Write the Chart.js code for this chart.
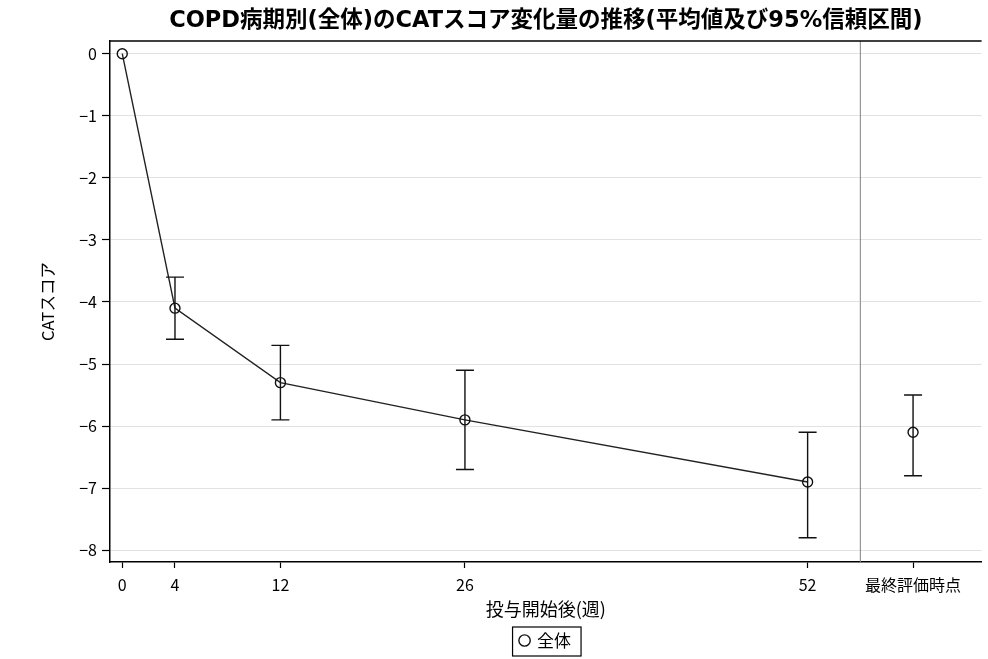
<!DOCTYPE html>
<html>
<head>
<meta charset="utf-8">
<script src="https://cdn.jsdelivr.net/npm/chart.js@4.4.1/dist/chart.umd.min.js"></script>
<style>
  html, body { margin: 0; padding: 0; background: #fff; }
  #wrap { width: 988px; height: 659px; }
</style>
</head>
<body>
<div id="wrap"><canvas id="catChart"></canvas></div>
<script>
const weeks = [0, 4, 12, 26, 52];
const meanValues = [0, -4.1, -5.3, -5.9, -6.9];
const lowerCI = [null, -4.6, -5.9, -6.7, -7.8];
const upperCI = [null, -3.6, -4.7, -5.1, -6.1];

const finalX = 60;
const finalMean = -6.1;
const finalLower = -6.8;
const finalUpper = -5.5;

const refLineX = 56;
const xTicks = [0, 4, 12, 26, 52, 60];
const xTickLabels = ['0', '4', '12', '26', '52', '最終評価時点'];
const yTicks = [0, -1, -2, -3, -4, -5, -6, -7, -8];

const fontFamily = '"Noto Sans CJK JP", "Noto Sans", sans-serif';
const titleFamily = '"DejaVu Sans", "Noto Sans CJK JP", sans-serif';

// error bars, reference line, frame top, legend box
const extras = {
  id: 'extras',
  beforeDatasetsDraw: (chart) => {
    const { ctx, chartArea, scales } = chart;
    const x = scales.x.getPixelForValue(refLineX);
    ctx.save();
    ctx.strokeStyle = '#808080';
    ctx.lineWidth = 1;
    ctx.beginPath();
    ctx.moveTo(x, chartArea.top);
    ctx.lineTo(x, chartArea.bottom);
    ctx.stroke();
    ctx.strokeStyle = '#000';
    ctx.lineWidth = 1.5;
    ctx.beginPath();
    ctx.moveTo(chartArea.left, chartArea.top);
    ctx.lineTo(chartArea.right, chartArea.top);
    ctx.stroke();
    ctx.restore();
  },
  afterDatasetsDraw: (chart) => {
    const { ctx, scales } = chart;
    const bars = weeks.map((w, i) => [w, lowerCI[i], upperCI[i]]);
    bars.push([finalX, finalLower, finalUpper]);
    ctx.save();
    ctx.strokeStyle = '#111';
    ctx.lineWidth = 1.4;
    bars.forEach(([w, lo, hi]) => {
      if (lo === null) return;
      const x = scales.x.getPixelForValue(w);
      const y1 = scales.y.getPixelForValue(lo);
      const y2 = scales.y.getPixelForValue(hi);
      ctx.beginPath();
      ctx.moveTo(x, y1); ctx.lineTo(x, y2);
      ctx.moveTo(x - 9, y1); ctx.lineTo(x + 9, y1);
      ctx.moveTo(x - 9, y2); ctx.lineTo(x + 9, y2);
      ctx.stroke();
    });
    ctx.restore();
  },
  afterDraw: (chart) => {
    const lg = chart.legend;
    if (!lg || !lg.legendHitBoxes || !lg.legendHitBoxes.length) return;
    const b = lg.legendHitBoxes[0];
    const { ctx } = chart;
    ctx.save();
    ctx.strokeStyle = '#000';
    ctx.lineWidth = 1.2;
    ctx.strokeRect(b.left - 8, b.top - 5, b.width + 18, b.height + 12);
    ctx.restore();
  }
};

new Chart(document.getElementById('catChart'), {
  type: 'line',
  data: {
    datasets: [
      {
        label: '全体',
        data: weeks.map((w, i) => ({ x: w, y: meanValues[i] })),
        borderColor: '#222',
        borderWidth: 1.4,
        pointStyle: 'circle',
        pointRadius: 5,
        pointBorderWidth: 1.4,
        pointBorderColor: '#111',
        pointBackgroundColor: 'rgba(255,255,255,0)',
        fill: false,
        tension: 0
      },
      {
        label: 'final',
        data: [{ x: finalX, y: finalMean }],
        showLine: false,
        pointStyle: 'circle',
        pointRadius: 5,
        pointBorderWidth: 1.4,
        pointBorderColor: '#111',
        pointBackgroundColor: 'rgba(255,255,255,0)'
      }
    ]
  },
  options: {
    responsive: true,
    maintainAspectRatio: false,
    animation: false,
    layout: { padding: { left: 34, right: 5, top: 0, bottom: 0 } },
    plugins: {
      title: {
        display: true,
        fullSize: false,
        text: 'COPD病期別(全体)のCATスコア変化量の推移(平均値及び95%信頼区間)',
        color: '#000',
        font: { family: titleFamily, size: 22.5, weight: 'bold' },
        padding: { top: 8, bottom: 6 }
      },
      legend: {
        display: true,
        position: 'bottom',
        fullSize: false,
        labels: {
          color: '#000',
          font: { family: fontFamily, size: 17 },
          usePointStyle: true,
          boxWidth: 8,
          boxHeight: 8,
          padding: 8,
          filter: item => item.text === '全体'
        }
      },
      tooltip: { enabled: false }
    },
    scales: {
      x: {
        type: 'linear',
        min: -0.93,
        max: 65.2,
        afterBuildTicks: scale => { scale.ticks = xTicks.map(v => ({ value: v })); },
        afterFit: scale => { scale.height = 62; },
        ticks: {
          color: '#000',
          font: { family: fontFamily, size: 16 },
          padding: 7,
          maxRotation: 0,
          autoSkip: false,
          callback: (value) => {
            const i = xTicks.indexOf(value);
            return i >= 0 ? xTickLabels[i] : '';
          }
        },
        grid: { drawOnChartArea: false, tickColor: '#000', tickLength: 6, tickWidth: 1.2 },
        border: { color: '#000', width: 1.5 },
        title: {
          display: true,
          text: '投与開始後(週)',
          color: '#000',
          font: { family: fontFamily, size: 18 },
          padding: { top: 4 }
        }
      },
      y: {
        type: 'linear',
        min: -8.19,
        max: 0.205,
        afterBuildTicks: scale => { scale.ticks = yTicks.map(v => ({ value: v })); },
        afterFit: scale => { scale.width = 76; },
        ticks: {
          color: '#000',
          font: { family: fontFamily, size: 16 },
          padding: 5,
          callback: value => value < 0 ? '\u2212' + Math.abs(value) : String(value)
        },
        grid: { color: '#e2e2e2', lineWidth: 1, tickColor: '#000', tickLength: 8, tickWidth: 1.2 },
        border: { color: '#000', width: 1.5 },
        title: {
          display: true,
          text: 'CATスコア',
          color: '#000',
          font: { family: fontFamily, size: 16.5 },
          padding: { bottom: 0 }
        }
      }
    }
  },
  plugins: [extras]
});
</script>
</body>
</html>
